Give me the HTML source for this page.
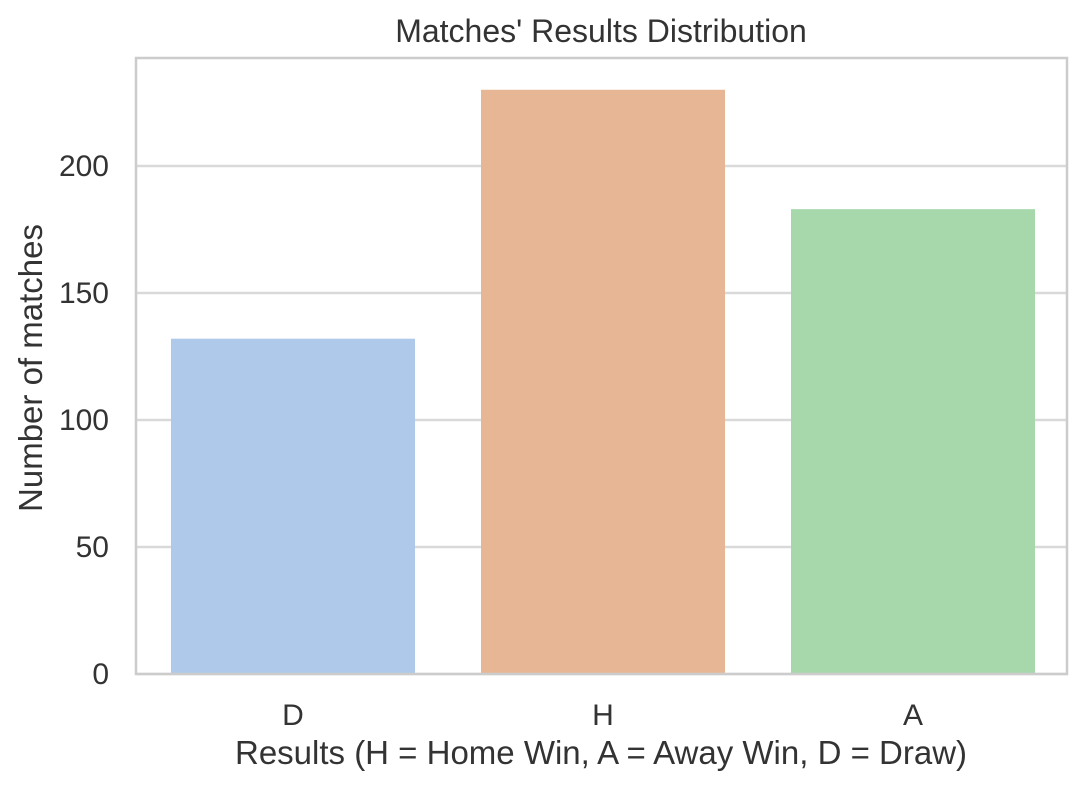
<!DOCTYPE html>
<html><head><meta charset="utf-8">
<style>
html,body{margin:0;padding:0;background:#fff;}
svg{display:block;font-family:"Liberation Sans",sans-serif;}
</style></head>
<body>
<svg id="chart" width="1084" height="788" viewBox="0 0 1084 788" xmlns="http://www.w3.org/2000/svg">
<text x="601" y="42" font-size="32" fill="#333" text-anchor="middle">Matches' Results Distribution</text>
<g id="grid"></g>
<g id="bars"></g>
<rect x="136" y="58" width="931" height="616" fill="none" stroke="#cccccc" stroke-width="2.5"/>
<g id="yticks"></g>
<g id="xticks"></g>
<text transform="translate(42,368) rotate(-90)" font-size="33" fill="#333" text-anchor="middle">Number of matches</text>
<text x="601" y="764" font-size="33" fill="#333" text-anchor="middle">Results (H = Home Win, A = Away Win, D = Draw)</text>
</svg>
<script>
const categories = ["D", "H", "A"];
const counts = [132, 230, 183];
const yTicks = [0, 50, 100, 150, 200];
const colors = ["#aec9e9", "#e7b795", "#a6d8ac"];

const NS = "http://www.w3.org/2000/svg";
const L = 136, R = 1067, T = 58, B = 674, yMax = 242.5;
const y = v => B - (v / yMax) * (B - T);
const step = 310;
const x0 = 138;
const x = i => x0 + step * i;
const bw = 244;

const grid = document.getElementById('grid');
const yt = document.getElementById('yticks');
yTicks.forEach(v => {
  const ln = document.createElementNS(NS, 'line');
  
  
  ln.setAttribute('x1', L); ln.setAttribute('x2', R);
  ln.setAttribute('y1', y(v)); ln.setAttribute('y2', y(v));
  ln.setAttribute('stroke', '#d9d9d9'); ln.setAttribute('stroke-width', '2.5');
  grid.appendChild(ln);
  const t = document.createElementNS(NS, 'text');
  
  
  t.setAttribute('x', 109); t.setAttribute('y', y(v) + 10);
  t.setAttribute('font-size', '30'); t.setAttribute('fill', '#333');
  t.setAttribute('text-anchor', 'end');
  t.textContent = v;
  yt.appendChild(t);
});

const bars = document.getElementById('bars');
const xt = document.getElementById('xticks');
categories.forEach((c, i) => {
  const r = document.createElementNS(NS, 'rect');
  
  
  const cx = x(i) + step / 2;
  r.setAttribute('x', cx - bw / 2); r.setAttribute('width', bw);
  r.setAttribute('y', y(counts[i])); r.setAttribute('height', B - y(counts[i]));
  r.setAttribute('fill', colors[i]);
  bars.appendChild(r);
  const t = document.createElementNS(NS, 'text');
  
  
  t.setAttribute('x', cx); t.setAttribute('y', 725);
  t.setAttribute('font-size', '30'); t.setAttribute('fill', '#333');
  t.setAttribute('text-anchor', 'middle');
  t.textContent = c;
  xt.appendChild(t);
});
</script>
</body></html>
